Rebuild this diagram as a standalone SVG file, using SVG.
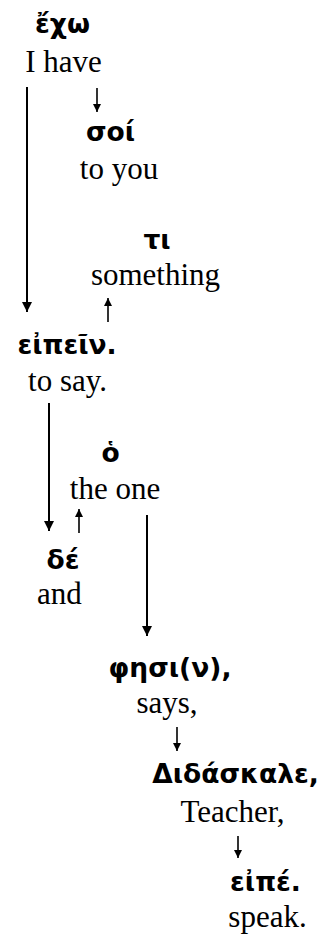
<svg xmlns="http://www.w3.org/2000/svg" width="324" height="938" viewBox="0 0 324 938">
<defs>
<marker id="ah" viewBox="0 0 10 10" refX="10" refY="5" markerWidth="10" markerHeight="10" markerUnits="userSpaceOnUse" orient="auto">
<path d="M0,0 L10,5 L0,10 Z" fill="#000"/>
</marker>
<marker id="ahs" viewBox="0 0 10 10" refX="10" refY="5" markerWidth="9" markerHeight="8" markerUnits="userSpaceOnUse" orient="auto">
<path d="M0,0 L10,5 L0,10 Z" fill="#000"/>
</marker>
</defs>
<style>
.gr{font-family:"DejaVu Sans","Noto Sans",sans-serif;font-weight:bold;font-size:26.5px;fill:#000;text-anchor:middle}
.en{font-family:"Liberation Serif","Times New Roman",serif;font-size:31px;fill:#000;text-anchor:middle}
.ln{stroke:#000;stroke-width:2;fill:none}
.sm{stroke:#000;stroke-width:1.6;fill:none}
</style>
<rect width="324" height="938" fill="#fff"/>
<g id="connectors">
<line class="ln" x1="27" y1="87" x2="27" y2="312" marker-end="url(#ah)"/>
<line class="sm" x1="97" y1="88" x2="97" y2="112" marker-end="url(#ahs)"/>
<line class="sm" x1="108" y1="322" x2="108" y2="298" marker-end="url(#ahs)"/>
<line class="ln" x1="49" y1="403" x2="49" y2="531" marker-end="url(#ah)"/>
<line class="sm" x1="79" y1="533" x2="79" y2="509" marker-end="url(#ahs)"/>
<line class="ln" x1="147" y1="515" x2="147" y2="636" marker-end="url(#ah)"/>
<line class="sm" x1="177" y1="727" x2="177" y2="751" marker-end="url(#ahs)"/>
<line class="sm" x1="238" y1="836" x2="238" y2="858" marker-end="url(#ahs)"/>
</g>
<g id="n-echo"><text class="gr" x="62.5" y="33">ἔχω</text><text class="en" x="63.5" y="72">I have</text></g>
<g id="n-soi"><text class="gr" x="110.5" y="141">σοί</text><text class="en" x="119" y="179">to you</text></g>
<g id="n-ti"><text class="gr" x="157" y="249">τι</text><text class="en" x="155.5" y="285">something</text></g>
<g id="n-eipein"><text class="gr" x="67" y="354">εἰπεῖν.</text><text class="en" x="67.5" y="391">to say.</text></g>
<g id="n-ho"><text class="gr" x="110.5" y="462">ὁ</text><text class="en" x="115" y="499">the one</text></g>
<g id="n-de"><text class="gr" x="63" y="569">δέ</text><text class="en" x="59.5" y="604">and</text></g>
<g id="n-phesin"><text class="gr" x="170" y="677">φησι(ν),</text><text class="en" x="167" y="713">says,</text></g>
<g id="n-didaskale"><text class="gr" x="235.5" y="783">Διδάσκαλε,</text><text class="en" x="232.5" y="822">Teacher,</text></g>
<g id="n-eipe"><text class="gr" x="265.5" y="891">εἰπέ.</text><text class="en" x="267.5" y="927">speak.</text></g>
</svg>
